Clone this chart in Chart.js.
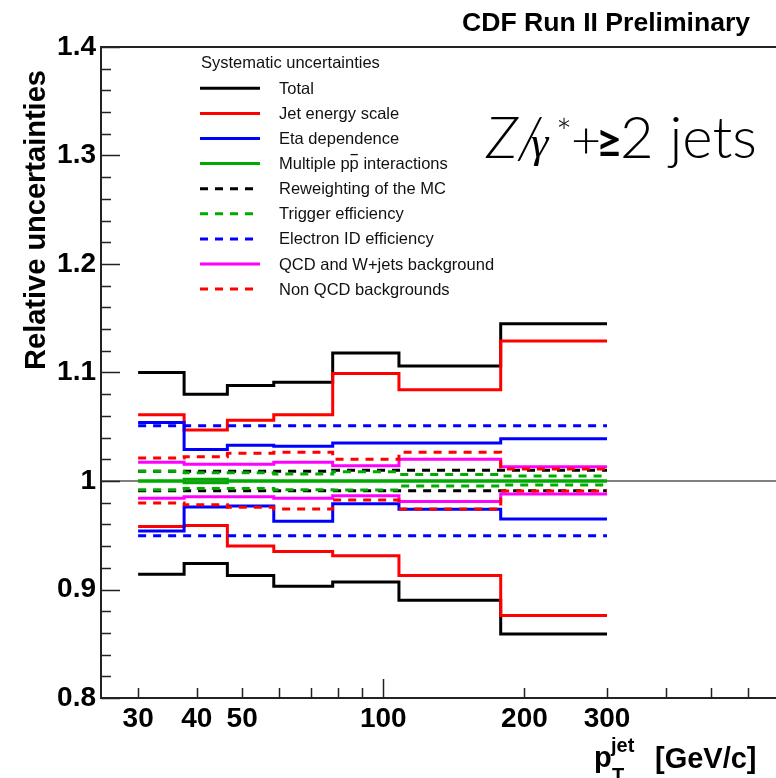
<!DOCTYPE html>
<html>
<head>
<meta charset="utf-8">
<script src="https://cdn.jsdelivr.net/npm/chart.js@4/dist/chart.umd.min.js"></script>
<style>
  html, body { margin: 0; padding: 0; background: #fff; overflow: hidden; }
  #wrap { position: relative; width: 776px; height: 778px; }
</style>
</head>
<body>
<div id="wrap"><canvas id="chart"></canvas></div>
<script>
/* Z/gamma* + >=2 jets : relative systematic uncertainties vs 2nd jet pT */

// bin edges (GeV/c)
const binEdges = [30, 37.6, 46.5, 58.4, 78, 108, 178, 300];

// per-bin up / down variations
const totalUp     = [1.100, 1.080, 1.088, 1.091, 1.118, 1.106, 1.145];
const totalDown   = [0.914, 0.924, 0.913, 0.903, 0.907, 0.890, 0.859];
const jesUp       = [1.061, 1.047, 1.056, 1.061, 1.099, 1.084, 1.129];
const jesDown     = [0.958, 0.959, 0.940, 0.935, 0.931, 0.913, 0.876];
const etaUp       = [1.054, 1.029, 1.033, 1.032, 1.035, 1.035, 1.039];
const etaDown     = [0.954, 0.976, 0.977, 0.963, 0.979, 0.974, 0.965];
const multiUp     = [1.000, 1.0015, 1.000, 1.000, 1.000, 1.000, 1.000];
const multiDown   = [1.000, 0.9985, 1.000, 1.000, 1.000, 1.000, 1.000];
const mcUp        = [1.009, 1.009, 1.009, 1.009, 1.010, 1.010, 1.010];
const mcDown      = [0.991, 0.991, 0.991, 0.991, 0.991, 0.991, 0.991];
const trigUp      = [1.009, 1.0077, 1.0077, 1.0064, 1.0086, 1.0061, 1.0046];
const trigDown    = [0.992, 0.9932, 0.9932, 0.992, 0.9917, 0.9954, 0.9963];
const eidUp       = [1.051, 1.051, 1.051, 1.051, 1.051, 1.051, 1.051];
const eidDown     = [0.9495, 0.9495, 0.9495, 0.9495, 0.9495, 0.9495, 0.9495];
const qcdUp       = [1.0172, 1.0154, 1.0154, 1.0172, 1.0141, 1.020, 1.0132];
const qcdDown     = [0.984, 0.9855, 0.9855, 0.984, 0.9865, 0.981, 0.988];
const nonQcdUp    = [1.0212, 1.0224, 1.0255, 1.0264, 1.020, 1.0264, 1.011];
const nonQcdDown  = [0.9797, 0.978, 0.9757, 0.9742, 0.9825, 0.9742, 0.9908];

// axis ticks
const xTicks  = [30, 40, 50, 60, 70, 80, 90, 100, 200, 300, 400, 500, 600];
const xLabels = [30, 40, 50, 100, 200, 300];
const yTicks  = [0.8, 0.9, 1.0, 1.1, 1.2, 1.3, 1.4];

const FONT = '"Liberation Sans", Arial, Helvetica, sans-serif';
const DASH = [8, 7];

const systematics = [
    { label: 'Total',                      color: '#000000', dash: [],   up: totalUp,  down: totalDown },
    { label: 'Jet energy scale',           color: '#ff0000', dash: [],   up: jesUp,    down: jesDown },
    { label: 'Eta dependence',             color: '#0000ff', dash: [],   up: etaUp,    down: etaDown },
    { label: 'Multiple pp interactions',   color: '#00aa00', dash: [],   up: multiUp,  down: multiDown },
    { label: 'Reweighting of the MC',      color: '#000000', dash: DASH, up: mcUp,     down: mcDown },
    { label: 'Trigger efficiency',         color: '#00aa00', dash: DASH, up: trigUp,   down: trigDown },
    { label: 'Electron ID efficiency',     color: '#0000ff', dash: DASH, up: eidUp,    down: eidDown },
    { label: 'QCD and W+jets background',  color: '#ff00ff', dash: [],   up: qcdUp,    down: qcdDown },
    { label: 'Non QCD backgrounds',        color: '#ff0000', dash: DASH, up: nonQcdUp, down: nonQcdDown }
];

// histogram outline: one point per bin low edge + closing point at last edge
function histPoints(vals) {
    const pts = vals.map((v, i) => ({ x: binEdges[i], y: v }));
    pts.push({ x: binEdges[binEdges.length - 1], y: vals[vals.length - 1] });
    return pts;
}

const datasets = [];
systematics.forEach((s, k) => {
    [s.up, s.down].forEach(vals => {
        datasets.push({
            label: s.label,
            data: histPoints(vals),
            borderColor: s.color,
            borderDash: s.dash,
            borderWidth: 3,
            borderCapStyle: 'butt',
            stepped: 'before',
            pointRadius: 0,
            fill: false,
            order: systematics.length - k   // later entries drawn on top, like ROOT
        });
    });
});

const framePlugin = {
    id: 'frame',
    beforeDatasetsDraw(chart) {
        const { ctx, chartArea: a, scales: { y } } = chart;
        const y1 = y.getPixelForValue(1);
        ctx.save();
        ctx.strokeStyle = '#000';
        ctx.lineWidth = 1;
        ctx.beginPath();
        ctx.moveTo(a.left, y1);
        ctx.lineTo(a.right, y1);
        ctx.stroke();
        ctx.restore();
    },
    afterDatasetsDraw(chart) {
        const { ctx, chartArea: a, scales: { x, y } } = chart;
        ctx.save();

        // frame: left, top, bottom
        ctx.strokeStyle = '#222';
        ctx.lineWidth = 2;
        ctx.beginPath();
        ctx.moveTo(a.right, a.top);
        ctx.lineTo(a.left, a.top);
        ctx.lineTo(a.left, a.bottom);
        ctx.lineTo(a.right, a.bottom);
        ctx.stroke();

        // y ticks (inside)
        ctx.lineWidth = 1.5;
        ctx.beginPath();
        for (let i = 0; i <= 30; i++) {
            const v = 0.8 + i * 0.02;
            const py = Math.round(y.getPixelForValue(v)) + 0.5;
            const len = i % 5 === 0 ? 19 : 10;
            ctx.moveTo(a.left, py);
            ctx.lineTo(a.left + len, py);
        }
        // x ticks (inside)
        xTicks.forEach(v => {
            const px = Math.round(x.getPixelForValue(v)) + 0.5;
            const len = v === 100 ? 19 : 10;
            ctx.moveTo(px, a.bottom);
            ctx.lineTo(px, a.bottom - len);
        });
        ctx.stroke();

        // y title
        ctx.fillStyle = '#000';
        ctx.save();
        ctx.translate(45, 220);
        ctx.rotate(-Math.PI / 2);
        ctx.font = 'bold 29px ' + FONT;
        ctx.textAlign = 'center';
        ctx.textBaseline = 'alphabetic';
        ctx.fillText('Relative uncertainties', 0, 0);
        ctx.restore();

        // x title: p_T^jet [GeV/c]
        ctx.textAlign = 'left';
        ctx.textBaseline = 'alphabetic';
        ctx.font = 'bold 29px ' + FONT;
        ctx.fillText('p', 594, 767);
        ctx.fillText('[GeV/c]', 655, 768);
        ctx.font = 'bold 20px ' + FONT;
        ctx.fillText('jet', 611, 752);
        ctx.fillText('T', 612, 782);

        // CDF label
        ctx.font = 'bold 26.6px ' + FONT;
        ctx.fillText('CDF Run II Preliminary', 462, 31);

        // legend
        const lx = 200, tx = 279, y0 = 88.3, dy = 25.1;
        ctx.font = '16.5px ' + FONT;
        ctx.textBaseline = 'middle';
        ctx.fillStyle = '#111';
        ctx.fillText('Systematic uncertainties', 201, 63);
        systematics.forEach((s, k) => {
            const ry = y0 + k * dy;
            ctx.strokeStyle = s.color;
            ctx.lineWidth = 3;
            ctx.setLineDash(s.dash);
            ctx.beginPath();
            ctx.moveTo(lx, ry);
            ctx.lineTo(lx + 60, ry);
            ctx.stroke();
            ctx.setLineDash([]);
            ctx.fillStyle = '#111';
            ctx.fillText(s.label, tx, ry + 1);
            if (s.label.startsWith('Multiple')) {
                // anti-proton bar over the second p
                const bx = tx + ctx.measureText('Multiple p').width;
                const bw = ctx.measureText('p').width;
                ctx.strokeStyle = '#111';
                ctx.lineWidth = 1.3;
                ctx.beginPath();
                ctx.moveTo(bx + 1, ry - 9);
                ctx.lineTo(bx + bw - 1, ry - 9);
                ctx.stroke();
            }
        });

        // process label  Z/gamma* + >=2 jets
        ctx.fillStyle = '#000';
        ctx.textBaseline = 'alphabetic';
        ctx.font = 'italic 300 58px Lato, "Open Sans", sans-serif';
        ctx.fillText('Z/', 486, 158);
        ctx.font = 'italic 44px "Liberation Serif", "DejaVu Serif", serif';
        ctx.fillText('\u03b3', 531, 157);
        ctx.font = '300 38px Lato, "Open Sans", sans-serif';
        ctx.fillText('*', 556, 146);
        ctx.font = '300 52px Lato, "Open Sans", sans-serif';
        ctx.fillText('+', 571, 158);
        ctx.font = 'bold 46px Lato, "Open Sans", sans-serif';
        ctx.fillText('\u2265', 596, 158);
        ctx.font = '300 58px Lato, "Open Sans", sans-serif';
        ctx.fillText('2 jets', 620, 158);

        ctx.restore();
    }
};

new Chart(document.getElementById('chart'), {
    type: 'line',
    data: { datasets },
    options: {
        responsive: true,
        maintainAspectRatio: false,
        animation: false,
        events: [],
        layout: { padding: { left: 0, top: 47, right: 0, bottom: 0 } },
        plugins: {
            legend: { display: false },
            tooltip: { enabled: false }
        },
        scales: {
            x: {
                type: 'logarithmic',
                min: 25,
                max: 688,
                grid: { display: false, drawTicks: false },
                border: { display: false },
                afterBuildTicks: s => { s.ticks = xTicks.map(v => ({ value: v })); },
                afterFit: s => { s.height = 80; },
                ticks: {
                    autoSkip: false,
                    maxRotation: 0,
                    padding: 4,
                    color: '#000',
                    font: { family: FONT, size: 28, weight: 'bold' },
                    callback: v => xLabels.includes(v) ? String(v) : ''
                }
            },
            y: {
                min: 0.8,
                max: 1.4,
                grid: { display: false, drawTicks: false },
                border: { display: false },
                afterBuildTicks: s => { s.ticks = yTicks.map(v => ({ value: v })); },
                afterFit: s => { s.width = 101; },
                ticks: {
                    padding: 5,
                    color: '#000',
                    font: { family: FONT, size: 28, weight: 'bold' },
                    callback: v => String(+v.toFixed(1))
                }
            }
        }
    },
    plugins: [framePlugin]
});
</script>
</body>
</html>
